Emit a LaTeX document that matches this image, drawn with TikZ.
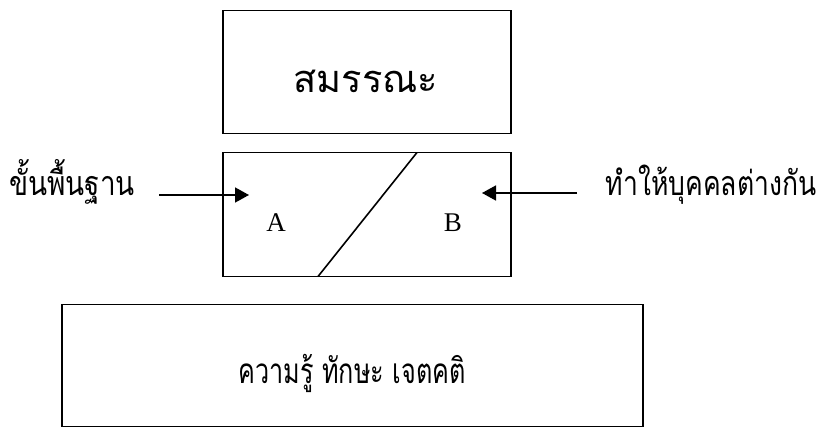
\documentclass[tikz,border=0pt]{standalone}
\usepackage{fontspec}
\usepackage{graphicx}
\setmainfont{Liberation Serif}
\newfontfamily\thaifont[Script=Thai]{Loma}
\usetikzlibrary{arrows.meta}
\begin{document}
\begin{tikzpicture}[x=1pt,y=-1pt]
\tikzset{
  box/.style={draw, line width=1.6pt, inner sep=0pt},
  thai/.style={inner sep=0pt, anchor=base, font=\thaifont},
  latin/.style={inner sep=0pt, anchor=base, font=\fontsize{27}{31}\selectfont},
  arr/.style={line width=1.6pt, -{Triangle[length=14pt,width=15pt]}},
  div/.style={line width=1.6pt}
}
\useasboundingbox (0,0) rectangle (823,428);
\node[box, minimum width=288pt, minimum height=123pt] (top) at (367,72) {};
\node[box, minimum width=288pt, minimum height=124pt] (mid) at (367,214.5) {};
\node[box, minimum width=581pt, minimum height=122pt] (bot) at (352.5,365.5) {};
\node[thai] (t1) at (366,93) {\fontsize{38}{44}\selectfont\scalebox{1.0}[1]{สมรรณะ}};
\node[thai] (t2) at (352,383) {\fontsize{35}{40}\selectfont\scalebox{0.72}[1]{ความรู้ ทักษะ เจตคติ}};
\node[thai] (tl) at (72,195) {\fontsize{34}{38}\selectfont\scalebox{0.82}[1]{ขั้นพื้นฐาน}};
\node[thai] (tr) at (711,195) {\fontsize{34}{38}\selectfont\scalebox{0.78}[1]{ทำให้บุคคลต่างกัน}};
\node[latin] (a) at (276,231) {A};
\node[latin] (b) at (453,231) {B};
\coordinate (la) at (159,195);
\coordinate (lb) at (249,195);
\coordinate (ra) at (577,193);
\coordinate (rb) at (482,193);
\coordinate (d1) at (318,276.5);
\coordinate (d2) at (417,152.5);
\draw[arr] (la) -- (lb);
\draw[arr] (ra) -- (rb);
\draw[div] (d1) -- (d2);
\end{tikzpicture}
\end{document}
